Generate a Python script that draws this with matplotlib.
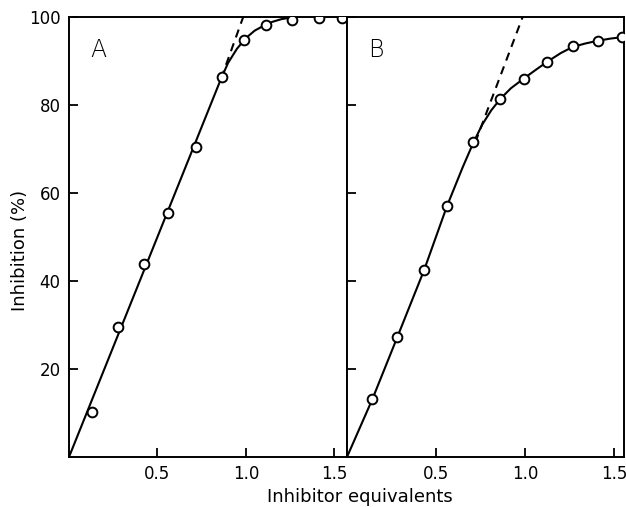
import matplotlib
matplotlib.use("Agg")
import matplotlib.pyplot as plt

# Panel A data (measured points)
a_x = [0.128, 0.277, 0.425, 0.560, 0.716, 0.865, 0.989, 1.115, 1.262, 1.416, 1.541]
a_y = [10.3, 29.6, 43.9, 55.5, 70.4, 86.4, 94.8, 98.2, 99.3, 99.8, 99.8]
# Panel A fitted curve
a_curve_x = [0, 0.86, 0.90, 0.95, 1.00, 1.05, 1.10, 1.15, 1.20, 1.27]
a_curve_y = [0, 86.0, 89.6, 92.8, 95.2, 96.9, 98.0, 98.9, 99.5, 100.0]
# Panel A extrapolated (dashed) line
a_dash_x = [0.86, 0.985]
a_dash_y = [86.0, 100.0]

# Panel B data (measured points)
b_x = [0.142, 0.283, 0.433, 0.561, 0.710, 0.861, 0.992, 1.123, 1.267, 1.408, 1.545]
b_y = [13.1, 27.3, 42.5, 57.0, 71.7, 81.4, 85.9, 89.8, 93.4, 94.5, 95.4]
# Panel B fitted curve
b_curve_x = [0, 0.142, 0.283, 0.433, 0.561, 0.65, 0.71, 0.76, 0.81, 0.861, 0.92, 0.992,
             1.06, 1.123, 1.20, 1.267, 1.34, 1.408, 1.48, 1.56]
b_curve_y = [0, 13.1, 27.3, 42.5, 57.0, 65.9, 71.5, 75.6, 78.8, 81.4, 83.8, 86.0,
             88.0, 89.8, 91.8, 93.2, 94.0, 94.6, 95.1, 95.5]
# Panel B extrapolated (dashed) line
b_dash_x = [0.72, 0.986]
b_dash_y = [71.5, 100.0]

x_ticks = [0.5, 1.0, 1.5]
x_ticklabels = ["0.5", "1.0", "1.5"]
y_ticks = [20, 40, 60, 80, 100]
y_ticklabels = ["20", "40", "60", "80", "100"]
panel_labels = ["A", "B"]
x_label = "Inhibitor equivalents"
y_label = "Inhibition (%)"

plt.rcParams['font.family'] = ['DejaVu Sans']

W, H = 626, 507
fig = plt.figure(figsize=(W / 100, H / 100), dpi=100)
axA = fig.add_axes([69 / W, (H - 457) / H, (347 - 69) / W, 440 / H])
axB = fig.add_axes([347 / W, (H - 457) / H, (624 - 347) / W, 440 / H])

lw = 1.5
for ax, xs, ys, cx, cy, dx, dy, lab, xmax in [
        (axA, a_x, a_y, a_curve_x, a_curve_y, a_dash_x, a_dash_y, panel_labels[0], 1.572),
        (axB, b_x, b_y, b_curve_x, b_curve_y, b_dash_x, b_dash_y, panel_labels[1], 1.555)]:
    ax.plot(cx, cy, color='black', lw=lw, zorder=2)
    ax.plot(dx, dy, color='black', lw=lw, linestyle=(0, (4, 3)), zorder=2)
    ax.plot(xs, ys, linestyle='none', marker='o', markersize=7,
            markerfacecolor='white', markeredgecolor='black', markeredgewidth=1.4, zorder=3)
    ax.set_xlim(0, xmax)
    ax.set_ylim(0, 100)
    ax.set_xticks(x_ticks)
    ax.set_xticklabels(x_ticklabels)
    ax.set_yticks(y_ticks)
    ax.tick_params(direction='in', length=6.5, width=1.3, labelsize=12, pad=6)
    for s in ax.spines.values():
        s.set_linewidth(1.4)
    ax.text(0.075, 0.925, lab, transform=ax.transAxes, fontsize=17,
            ha='left', va='center', fontweight='light')

axA.set_yticklabels(y_ticklabels)
axB.set_yticklabels([])
axA.tick_params(axis='y', which='both', right=False)

fig.text(360 / W, 1 - 497 / H, x_label, ha='center', va='center', fontsize=13)
fig.text(20 / W, 1 - 250 / H, y_label, ha='center', va='center', rotation=90, fontsize=13)

fig.savefig("out.png", dpi=100)
